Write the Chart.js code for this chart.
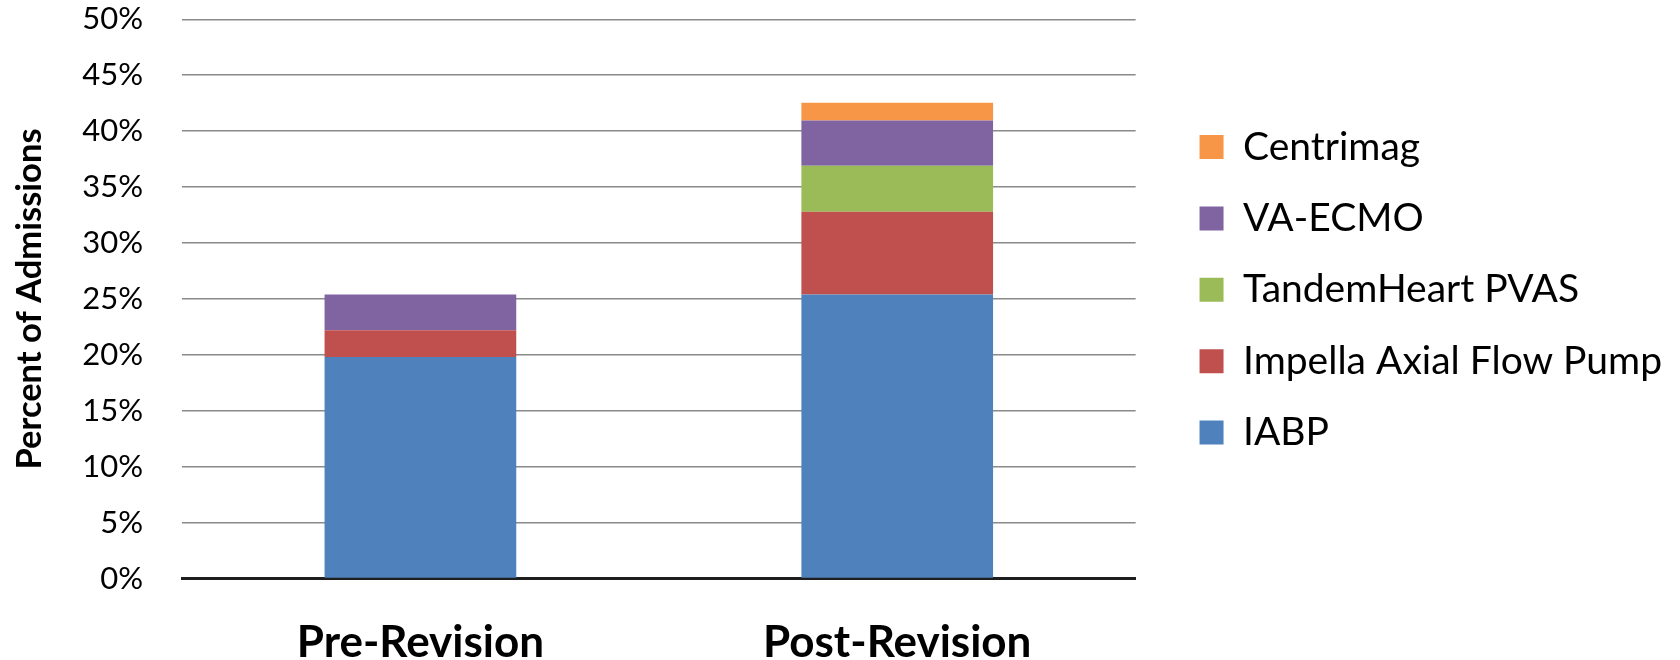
<!DOCTYPE html>
<html>
<head>
<meta charset="utf-8">
<script src="https://cdn.jsdelivr.net/npm/chart.js@4.4.1/dist/chart.umd.min.js"></script>
<style>
  html, body { margin: 0; padding: 0; background: #ffffff; }
  #wrap { width: 1680px; height: 660px; position: relative; }
</style>
</head>
<body>
<div id="wrap"><canvas id="chart" width="1680" height="660"></canvas></div>
<script>
// Mechanical circulatory support use, share of admissions (%)
const periods = ['Pre-Revision', 'Post-Revision'];
const iabp       = [19.8, 25.4];
const impella    = [2.4, 7.4];
const tandem     = [0.0, 4.1];
const vaEcmo     = [3.2, 4.05];
const centrimag  = [0.0, 1.6];

const yTicks = [0, 5, 10, 15, 20, 25, 30, 35, 40, 45, 50];

const seriesNames  = ['IABP', 'Impella Axial Flow Pump', 'TandemHeart PVAS', 'VA-ECMO', 'Centrimag'];
const seriesValues = [iabp, impella, tandem, vaEcmo, centrimag];
const seriesColors = ['#4F81BD', '#C0504D', '#9BBB59', '#8064A2', '#F79646'];

const FONT = 'Lato, "Open Sans", "DejaVu Sans", sans-serif';

const datasets = seriesNames.map((name, i) => ({
  label: name,
  data: seriesValues[i],
  backgroundColor: seriesColors[i],
  borderWidth: 0,
  categoryPercentage: 1.0,
  barPercentage: 0.402
}));

// keep tick-label overhang from pushing the plot area around
function noOverhang(scale) {
  scale.paddingTop = 0;
  scale.paddingBottom = 0;
  scale.paddingLeft = 0;
  scale.paddingRight = 0;
}

new Chart(document.getElementById('chart'), {
  type: 'bar',
  data: { labels: periods, datasets },
  options: {
    responsive: false,
    animation: false,
    devicePixelRatio: 1,
    layout: { padding: { top: 19.3, right: 8, bottom: 0, left: 0 } },
    plugins: {
      tooltip: { enabled: false },
      legend: {
        position: 'right',
        align: 'start',
        reverse: true,
        maxWidth: 700,
        title: { display: true, text: '', font: { size: 12 }, padding: { top: 0, bottom: 61.4 } },
        labels: {
          boxWidth: 24,
          boxHeight: 24,
          padding: 32.4,
          color: '#000000',
          font: { family: FONT, size: 39 }
        }
      }
    },
    scales: {
      x: {
        stacked: true,
        grid: { display: false },
        border: { display: true, color: '#1e1e1e', width: 3 },
        ticks: {
          color: '#000000',
          padding: 30,
          font: { family: FONT, size: 44, weight: 'bold' }
        },
        afterFit(scale) { scale.height = 81.4; noOverhang(scale); }
      },
      y: {
        stacked: true,
        min: 0,
        max: 50,
        afterBuildTicks(scale) { scale.ticks = yTicks.map(v => ({ value: v })); },
        grid: { color: '#8a8a8a', lineWidth: 1.5, drawTicks: false },
        border: { display: false },
        ticks: {
          color: '#000000',
          padding: 39,
          font: { family: FONT, size: 31 },
          callback: v => v + '%'
        },
        title: {
          display: true,
          text: 'Percent of Admissions',
          color: '#000000',
          font: { family: FONT, size: 34.5, weight: 'bold' },
          padding: { top: 9, bottom: 0 }
        },
        afterFit(scale) { scale.width = 182; noOverhang(scale); }
      },
      gap: {
        type: 'linear',
        position: 'right',
        display: true,
        grid: { display: false },
        border: { display: false },
        ticks: { display: false },
        afterFit(scale) { scale.width = 31.5; noOverhang(scale); }
      }
    }
  }
});
</script>
</body>
</html>
